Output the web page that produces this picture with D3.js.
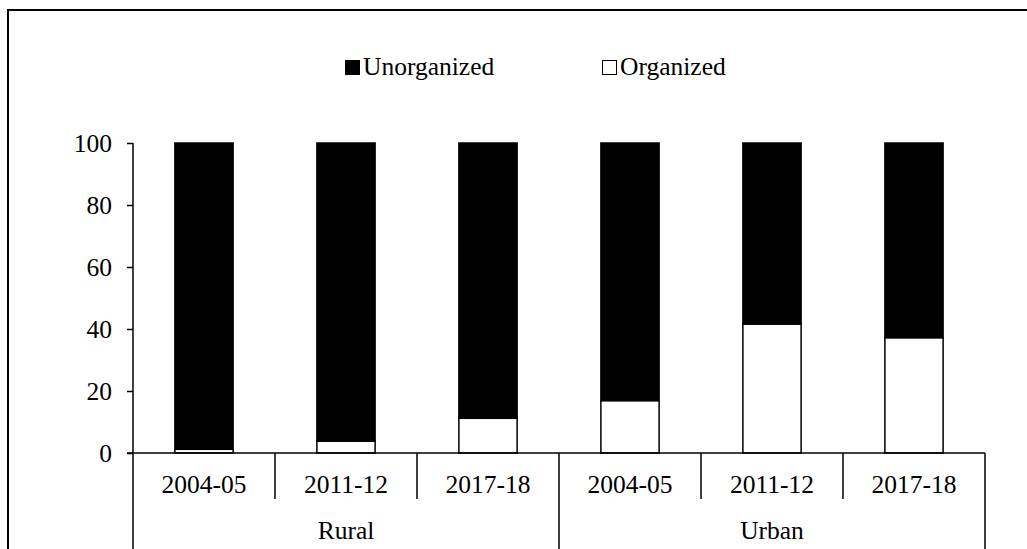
<!DOCTYPE html>
<html>
<head>
<meta charset="utf-8">
<script src="https://cdn.jsdelivr.net/npm/d3@7"></script>
</head>
<body style="margin:0; background:#fff">
<script>
// share of workers by sector, rural vs urban

var groups = ["Rural", "Urban"];
var years = ["2004-05", "2011-12", "2017-18"];
var organized = [1.2, 3.8, 11.2, 16.9, 41.6, 37.2];
var unorganized = [98.8, 96.2, 88.8, 83.1, 58.4, 62.8];
var yTicks = [0, 20, 40, 60, 80, 100];
var seriesNames = ["Organized", "Unorganized"];
var seriesFill = ["#fff", "#000"];

var width = 1027;
var height = 549;
var font = "'Liberation Serif'";
var fontSize = 25.5;

var svg = d3.select("body")
  .append("svg")
  .attr("width", width)
  .attr("height", height);

// outer frame (only left and top edges show)
svg.append("path")
  .attr("d", "M8," + height + "V10H" + width)
  .attr("fill", "none")
  .attr("stroke", "#000")
  .attr("stroke-width", 2);

var rows = [];
groups.forEach(function(g, gi) {
  years.forEach(function(yr, yi) {
    var i = gi * years.length + yi;
    rows.push({key: g + "|" + yr, group: g, year: yr, Organized: organized[i], Unorganized: unorganized[i]});
  });
});

var x = d3.scaleBand()
  .domain(rows.map(function(d) { return d.key; }))
  .range([133, 985])
  .paddingInner(0.59)
  .paddingOuter(0.295);

var y = d3.scaleLinear()
  .domain([0, 100])
  .range([453, 143]);

var stack = d3.stack().keys(seriesNames);
var layers = stack(rows);

layers.forEach(function(layer, i) {
  svg.append("g")
    .selectAll("rect")
    .data(layer)
    .enter()
    .append("rect")
    .attr("x", function(d) { return x(d.data.key); })
    .attr("width", x.bandwidth())
    .attr("y", function(d) { return y(d[1]); })
    .attr("height", function(d) { return y(d[0]) - y(d[1]); })
    .attr("fill", seriesFill[i])
    .attr("stroke", "#000")
    .attr("stroke-width", 1.5);
});

// y axis
var yAxis = svg.append("g")
  .attr("transform", "translate(133,0)")
  .call(d3.axisLeft(y).tickValues(yTicks).tickSize(6).tickSizeOuter(0).tickPadding(15));

yAxis.select(".domain").remove();
yAxis.selectAll("line").attr("stroke", "#000").attr("stroke-width", 1.5);
yAxis.selectAll("text")
  .attr("fill", "#000")
  .attr("font-family", font)
  .attr("font-size", fontSize)
  .attr("dy", "0.33em");

var ax = svg.append("g")
  .attr("stroke", "#000")
  .attr("stroke-width", 1.5);

// vertical axis line continues down past zero as group divider
ax.append("line")
  .attr("x1", 133).attr("x2", 133)
  .attr("y1", y(100)).attr("y2", height);

// baseline
ax.append("line")
  .attr("x1", 127).attr("x2", 985)
  .attr("y1", y(0)).attr("y2", y(0));

var step = x.step();
var x0 = x.range()[0];

// separators between years and between groups
for (var i = 1; i <= rows.length; i++) {
  var isGroup = i % years.length == 0;
  ax.append("line")
    .attr("x1", x0 + i * step).attr("x2", x0 + i * step)
    .attr("y1", y(0))
    .attr("y2", isGroup ? height : 499);
}

// year labels
svg.append("g")
  .selectAll("text")
  .data(rows)
  .enter()
  .append("text")
  .attr("x", function(d) { return x(d.key) + x.bandwidth() / 2; })
  .attr("y", 493)
  .attr("text-anchor", "middle")
  .attr("font-family", font)
  .attr("font-size", fontSize)
  .text(function(d) { return d.year; });

// group labels
svg.append("g")
  .selectAll("text")
  .data(groups)
  .enter()
  .append("text")
  .attr("x", function(d, i) { return x0 + (i * years.length + years.length / 2) * step; })
  .attr("y", 539)
  .attr("text-anchor", "middle")
  .attr("font-family", font)
  .attr("font-size", fontSize)
  .text(function(d) { return d; });

// legend
var legend = [
  {name: "Unorganized", fill: "#000", x: 345},
  {name: "Organized", fill: "#fff", x: 602}
];

var lg = svg.append("g")
  .selectAll("g")
  .data(legend)
  .enter()
  .append("g")
  .attr("transform", function(d) { return "translate(" + d.x + ",60)"; });

lg.append("rect")
  .attr("width", 14)
  .attr("height", 14)
  .attr("x", 0.5)
  .attr("y", 0.5)
  .attr("fill", function(d) { return d.fill; })
  .attr("stroke", "#000")
  .attr("stroke-width", 1);

lg.append("text")
  .attr("x", 18)
  .attr("y", 14.5)
  .attr("font-family", font)
  .attr("font-size", fontSize)
  .text(function(d) { return d.name; });
</script>
</body>
</html>
